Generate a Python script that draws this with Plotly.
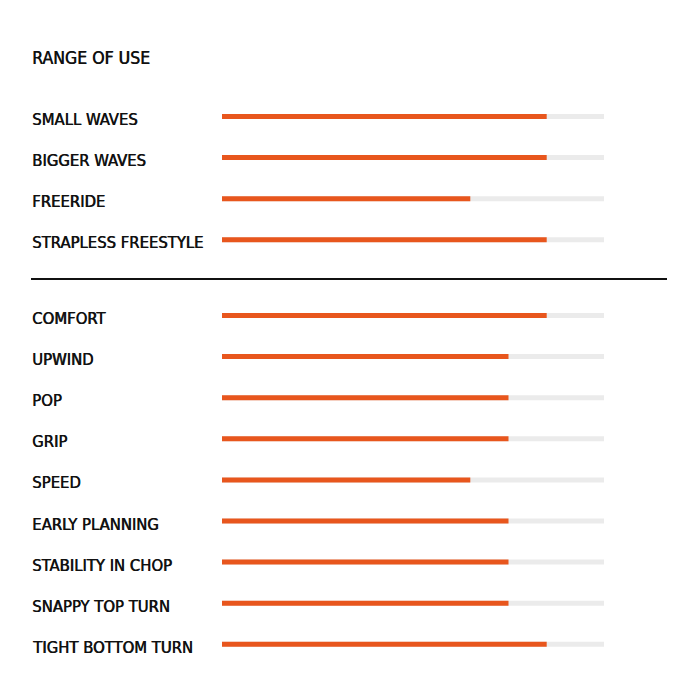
import plotly.graph_objects as go

title = "RANGE OF USE"
group1_labels = ["SMALL WAVES", "BIGGER WAVES", "FREERIDE", "STRAPLESS FREESTYLE"]
group1_values = [8.5, 8.5, 6.5, 8.5]
group2_labels = ["COMFORT", "UPWIND", "POP", "GRIP", "SPEED", "EARLY PLANNING",
                 "STABILITY IN CHOP", "SNAPPY TOP TURN", "TIGHT BOTTOM TURN"]
group2_values = [8.5, 7.5, 7.5, 7.5, 6.5, 7.5, 7.5, 7.5, 8.5]
scale_max = 10

W, H = 700, 700
FONT = "Liberation Sans Narrow, DejaVu Sans Condensed, sans-serif"
ORANGE = "#e8561d"
TRACK = "#ebebeb"
SHADOW = "0.6px 0px 0px #111111"

step = 41.1
y1 = [119 + i * step for i in range(len(group1_labels))]
y2 = [318 + i * step for i in range(len(group2_labels))]
labels = group1_labels + group2_labels
values = group1_values + group2_values
ys = y1 + y2
bar_ys = [y - 2.5 for y in ys]

fig = go.Figure()
fig.add_trace(go.Bar(x=[scale_max] * len(values), y=bar_ys, orientation="h",
                     marker=dict(color=TRACK, line=dict(width=0)), width=5,
                     hoverinfo="skip", showlegend=False))
fig.add_trace(go.Bar(x=values, y=bar_ys, orientation="h",
                     marker=dict(color=ORANGE, line=dict(width=0)), width=5,
                     showlegend=False))

for lab, y in zip(labels, ys):
    fig.add_annotation(text=lab, x=30 / W, xref="paper", y=y + 0.5, yref="y",
                       xanchor="left", yanchor="middle", showarrow=False,
                       font=dict(family=FONT, size=16.5, color="#111111",
                                 shadow=SHADOW))
fig.add_annotation(text=title, x=30 / W, xref="paper", y=57.5, yref="y",
                   xanchor="left", yanchor="middle", showarrow=False,
                   font=dict(family=FONT, size=17.5, color="#111111",
                             shadow=SHADOW))

fig.add_shape(type="line", xref="paper", yref="y", x0=31 / W, x1=667 / W,
              y0=279, y1=279, line=dict(color="#111111", width=2))

fig.update_layout(
    width=W, height=H, margin=dict(l=0, r=0, t=0, b=0),
    paper_bgcolor="white", plot_bgcolor="white", barmode="overlay",
    xaxis=dict(range=[0, scale_max], domain=[222 / W, 604 / W], visible=False,
               fixedrange=True),
    yaxis=dict(range=[H, 0], domain=[0, 1], visible=False, fixedrange=True),
)
fig.write_html("out.html")
